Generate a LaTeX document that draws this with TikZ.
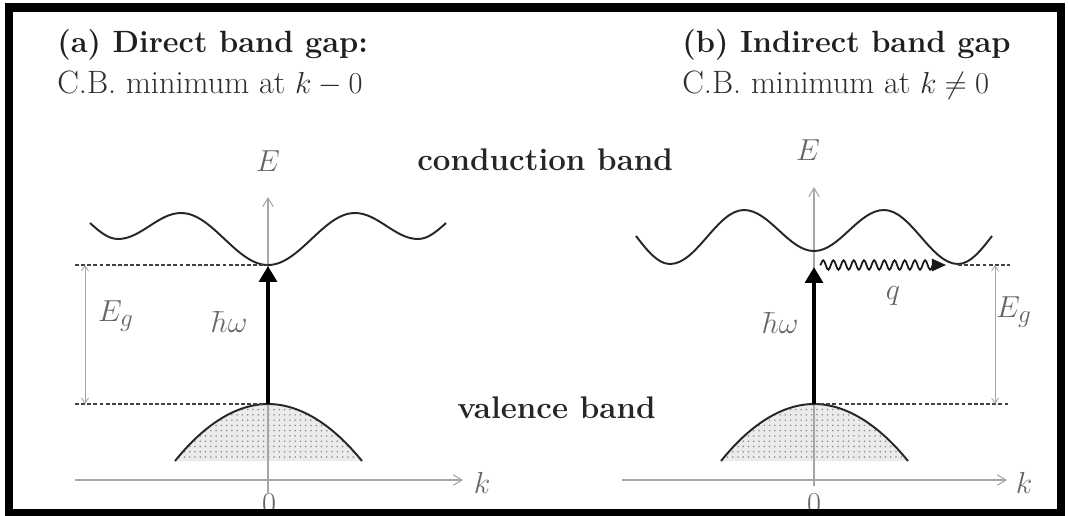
\documentclass[tikz,border=0pt]{standalone}
\usepackage{fontspec}
\usetikzlibrary{arrows.meta,patterns,decorations.pathmorphing}
\begin{document}
\begin{tikzpicture}[x=0.02cm,y=-0.02cm,
  axis/.style={draw=black!35, line width=0.6pt, -{Straight Barb[length=5pt,width=6pt]}},
  band/.style={draw=black!85, line width=1.1pt},
  guide/.style={draw=black!75, line width=0.6pt, dash pattern=on 2.2pt off 1.3pt},
  gaparrow/.style={draw=black!35, line width=0.5pt, {Straight Barb[length=3pt,width=4pt]}-{Straight Barb[length=3pt,width=4pt]}},
  photon/.style={draw=black, line width=2.2pt, -{Triangle[length=9pt,width=10pt]}},
  phonon/.style={draw=black!90, line width=1pt, decorate, decoration={snake, amplitude=2.7pt, segment length=5.8pt, post length=6pt}, -{Triangle[length=8pt,width=7pt]}},
  vfill/.style={preaction={fill=black!8}, pattern=dots, pattern color=black!45},
  lbl/.style={text=black!60, inner sep=0pt, font=\fontsize{19}{22}\selectfont},
  title/.style={anchor=base west, inner sep=0pt, text=black!88, font=\fontsize{17.5}{21}\selectfont\bfseries},
  sub/.style={anchor=base west, inner sep=0pt, text=black!82, font=\fontsize{18.4}{22}\selectfont},
  bandname/.style={anchor=base west, inner sep=0pt, text=black!85, font=\fontsize{17.8}{21}\selectfont\bfseries}
]
\useasboundingbox (0,0) rectangle (1068,515);
\fill[white] (0,0) rectangle (1068,515);

% key points
\coordinate (vA) at (268,404);
\coordinate (cA) at (268,266);
\coordinate (vB) at (814,404);
\coordinate (cB) at (814,267);
\coordinate (qS) at (820,265);
\coordinate (qE) at (946,265);

% valence bands (filled)
\fill[vfill] (175,461) parabola bend (268,404) (362,461) -- cycle;
\fill[vfill] (721,461) parabola bend (814,404) (908,461) -- cycle;

% axes
\draw[axis] (268,493) -- (268,197);
\draw[axis] (75,480) -- (463,480);
\draw[axis] (814,486) -- (814,187);
\draw[axis] (622,480) -- (1007,480);

% valence band curves
\draw[band] (175,461) parabola bend (268,404) (362,461);
\draw[band] (721,461) parabola bend (814,404) (908,461);

% conduction bands
\draw[band] (90,223) sin (118,239) cos (149.5,226) sin (181,213) cos (224.5,239) sin (268,265)
  cos (311.5,239) sin (355,213) cos (386.5,226) sin (418,239) cos (446,223);
\draw[band] (636,236) sin (670,264) cos (707,237) sin (744,210) cos (779,230.5) sin (814,251)
  cos (849,230.5) sin (884,210) cos (921,237) sin (958,264) cos (992,236);

% dashed guides
\draw[guide] (75,265) -- (268,265);
\draw[guide] (75,404) -- (268,404);
\draw[guide] (958,265) -- (1010,265);
\draw[guide] (814,404) -- (1008,404);

% gap arrows
\draw[gaparrow] (85,265) -- (85,404);
\draw[gaparrow] (995,265) -- (995,404);

% transitions
\draw[photon] (vA) -- (cA);
\draw[photon] (vB) -- (cB);
\draw[phonon] (qS) -- (qE);

% texts
\node[title] (ta) at (57,52) {(a) Direct band gap:};
\node[sub] (sa) at (57,93) {C.B. minimum at $k-0$};
\node[title] (tb) at (682,52) {(b) Indirect band gap};
\node[sub] (sb) at (682,93) {C.B. minimum at $k\neq0$};
\node[bandname] (cbn) at (417,170) {conduction band};
\node[bandname] (vbn) at (457,418) {valence band};

\node[lbl] (EA) at (268,161) {$E$};
\node[lbl] (EB) at (808,150) {$E$};
\node[lbl] (kA) at (482,483) {$k$};
\node[lbl] (kB) at (1024,483) {$k$};
\node[lbl] (zA) at (269,504) {$0$};
\node[lbl] (zB) at (814,504) {$0$};
\node[lbl] (gA) at (116,316) {$E_g$};
\node[lbl] (gB) at (1014,312) {$E_g$};
\node[lbl] (hA) at (229,322) {$\hbar\omega$};
\node[lbl] (hB) at (780,323) {$\hbar\omega$};
\node[lbl] (q) at (893,296) {$q$};

% frame
\draw[line width=5pt] (9,7.5) rectangle (1061,513);
\end{tikzpicture}
\end{document}
